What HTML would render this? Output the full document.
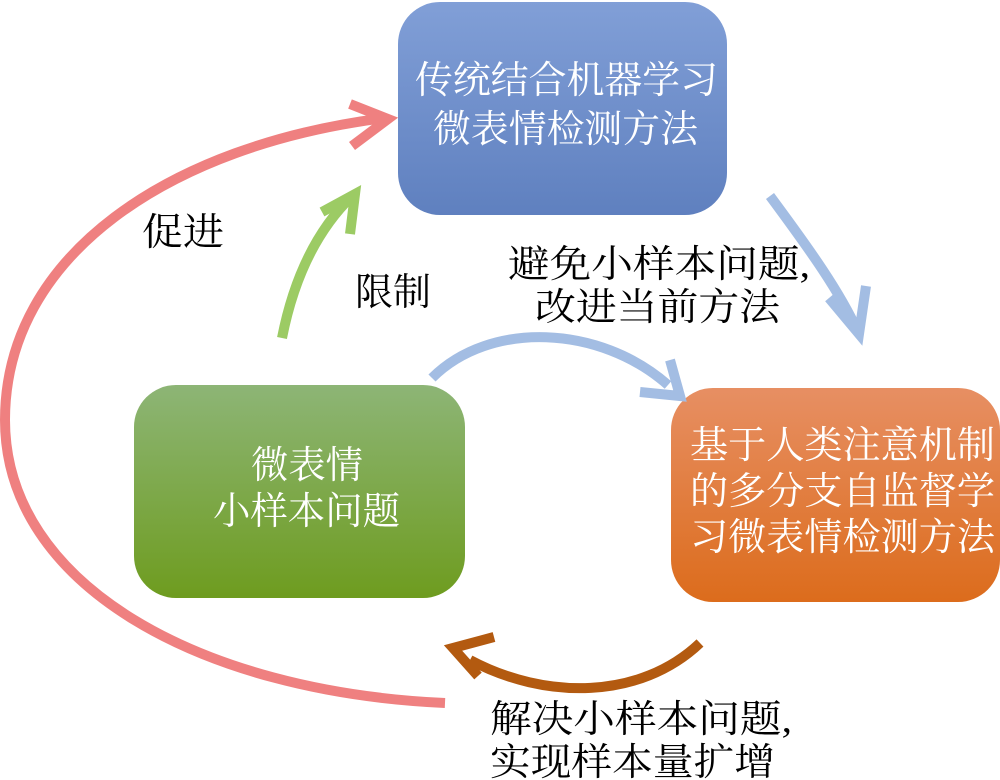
<!DOCTYPE html>
<html><head><meta charset="utf-8"><style>
html,body{margin:0;padding:0;background:#fff}
svg{display:block}
text{font-family:"Liberation Serif","Noto Serif CJK SC","Noto Sans CJK SC",serif;font-size:38px}
</style></head><body>
<svg width="1000" height="780" viewBox="0 0 1000 780" xmlns="http://www.w3.org/2000/svg">
<defs>
<linearGradient id="gb" x1="0" y1="0" x2="0" y2="1"><stop offset="0" stop-color="#819fd7"/><stop offset="1" stop-color="#5f80bf"/></linearGradient>
<linearGradient id="gg" x1="0" y1="0" x2="0" y2="1"><stop offset="0" stop-color="#8db576"/><stop offset="1" stop-color="#6e9c1f"/></linearGradient>
<linearGradient id="go" x1="0" y1="0" x2="0" y2="1"><stop offset="0" stop-color="#e78f63"/><stop offset="1" stop-color="#dc6c1c"/></linearGradient>
</defs>
<rect x="398" y="2" width="329" height="213" rx="42" fill="url(#gb)"/>
<rect x="134" y="385" width="331" height="213" rx="42" fill="url(#gg)"/>
<rect x="671" y="388" width="329" height="214" rx="42" fill="url(#go)"/>

<g fill="none" stroke-width="10" stroke-linecap="butt" stroke-linejoin="miter">
<path d="M445,703 C200,692 5,585 5,420 C5,255 170,145 385,118" stroke="#ef8080"/>
<path d="M350,104 L388,119 L352,146" stroke="#ef8080"/>
<path d="M282,338 C293,282 315,232 352,196" stroke="#9ccb64"/>
<path d="M322,212 L355,194 L350,234" stroke="#9ccb64"/>
<path d="M770,196 C810,250 840,292 858,332" stroke="#a3bde3"/>
<path d="M829,298 L859,334 L866,286" stroke="#a3bde3"/>
<path d="M432,378 C490,320 600,325 668,385" stroke="#a3bde3"/>
<path d="M640,392 L680,396 L670,360" stroke="#a3bde3"/>
<path d="M700,643 C640,700 545,700 470,660" stroke="#b35a10"/>
<path d="M494,637 L453,648 L478,676" stroke="#b35a10"/>
</g>

<g fill="#fff">
<text x="415" y="93" textLength="303" lengthAdjust="spacingAndGlyphs">传统结合机器学习</text>
<text x="433" y="142" textLength="265" lengthAdjust="spacingAndGlyphs">微表情检测方法</text>
<text x="251" y="478" textLength="112" lengthAdjust="spacingAndGlyphs">微表情</text>
<text x="213" y="524" textLength="187" lengthAdjust="spacingAndGlyphs">小样本问题</text>
<text x="690" y="458" textLength="305" lengthAdjust="spacingAndGlyphs">基于人类注意机制</text>
<text x="690" y="504" textLength="305" lengthAdjust="spacingAndGlyphs">的多分支自监督学</text>
<text x="690" y="550" textLength="305" lengthAdjust="spacingAndGlyphs">习微表情检测方法</text>
</g>
<g fill="#000">
<text x="142" y="245" textLength="82" lengthAdjust="spacingAndGlyphs">促进</text>
<text x="355" y="305" textLength="76" lengthAdjust="spacingAndGlyphs">限制</text>
<text x="508" y="277" textLength="302" lengthAdjust="spacingAndGlyphs">避免小样本问题,</text>
<text x="535" y="320" textLength="245" lengthAdjust="spacingAndGlyphs">改进当前方法</text>
<text x="490" y="732" textLength="302" lengthAdjust="spacingAndGlyphs">解决小样本问题,</text>
<text x="490" y="775" textLength="285" lengthAdjust="spacingAndGlyphs">实现样本量扩增</text>
</g>
</svg>
</body></html>
